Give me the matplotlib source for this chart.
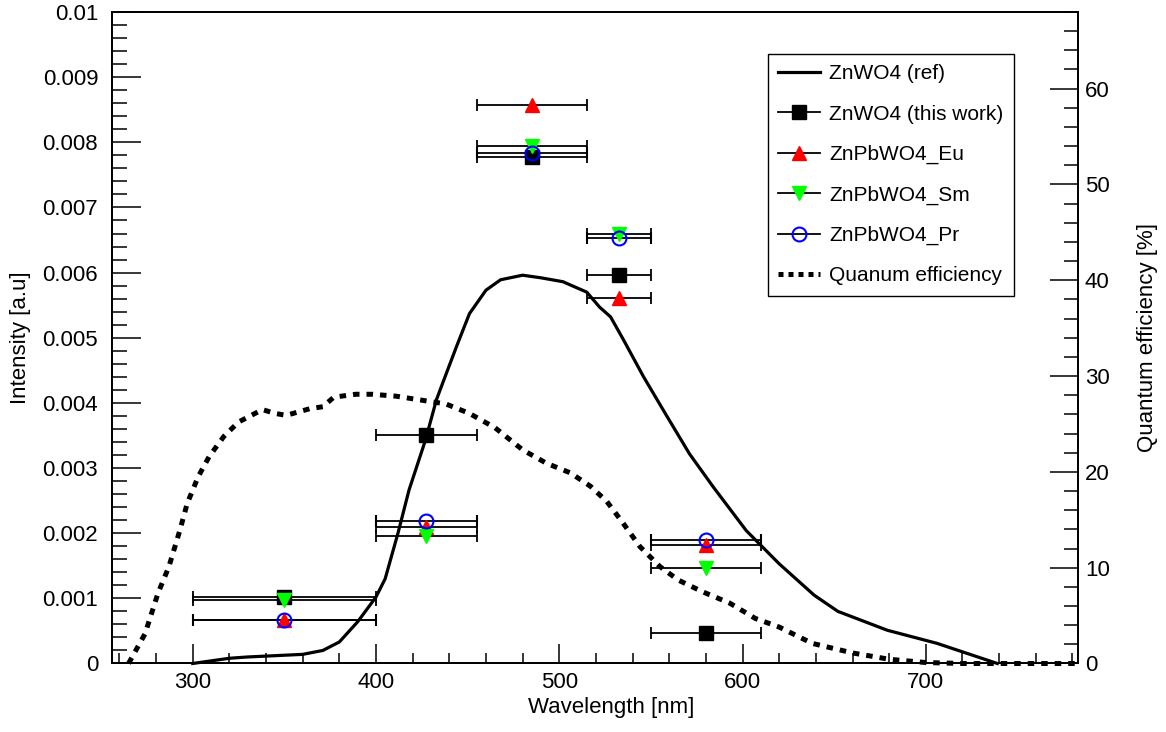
import numpy as np
import matplotlib
matplotlib.use("Agg")
import matplotlib.pyplot as plt
from matplotlib.lines import Line2D
from matplotlib.ticker import MultipleLocator, FuncFormatter

plt.rcParams['font.family'] = ['Liberation Sans', 'DejaVu Sans']

# ZnWO4 reference emission spectrum (nm, a.u.)
ref_wl = [300, 320, 330, 345, 360, 371, 380, 390, 400, 405, 412, 418, 427, 433, 437,
          444, 451, 460, 468, 480, 490, 502, 515, 522, 528, 535, 546, 558, 571, 584,
          602, 620, 639, 652, 679, 706, 739]
ref_int = [0, 0.00008, 0.0001, 0.00012, 0.00014, 0.0002, 0.00033, 0.00064, 0.00102,
           0.0013, 0.002, 0.00266, 0.00343, 0.00405, 0.00435, 0.00487, 0.00537,
           0.00573, 0.00589, 0.00596, 0.00592, 0.00586, 0.0057, 0.00547, 0.00532,
           0.00497, 0.0044, 0.00383, 0.00322, 0.00271, 0.00204, 0.00153, 0.00105,
           0.0008, 0.00051, 0.00031, 0]

# quantum efficiency curve (nm, %)
qe_wl = [265, 274, 281, 287, 293, 297, 303, 309, 317, 325, 338, 345, 351, 364, 371,
         377, 389, 398, 411, 431, 438, 451, 465, 480, 493, 506, 517, 526, 535, 544,
         555, 565, 578, 593, 607, 620, 638, 660, 680, 700, 720, 740, 783]
qe_val = [0, 3.1, 7.3, 10.1, 13.9, 16.7, 19.5, 21.6, 23.7, 25.2, 26.5, 26.1, 25.9,
          26.6, 26.8, 27.8, 28.1, 28.1, 27.9, 27.3, 27.1, 26.1, 24.6, 22.3, 20.9,
          19.9, 18.5, 16.9, 14.6, 12.2, 10.1, 8.7, 7.5, 6.3, 4.7, 3.8, 2.1, 1.1,
          0.44, 0.1, 0, 0, 0]

# measured points
wl = [350, 427.5, 485, 532.5, 580]
wl_err = [50, 27.5, 30, 17.5, 30]
this_work = [0.00102, 0.00351, 0.00778, 0.00597, 0.00047]
eu = [0.00066, 0.00209, 0.00857, 0.00561, 0.00182]
sm = [0.00097, 0.00196, 0.00795, 0.00659, 0.00146]
pr = [0.00067, 0.00218, 0.00784, 0.00653, 0.00189]

fig = plt.figure(figsize=(11.66, 7.32), dpi=100)
ax = fig.add_axes([0.0961, 0.0936, 0.8284, 0.8900])
ax2 = ax.twinx()

ax.plot(ref_wl, ref_int, color='black', lw=2.3, clip_on=False, zorder=3)
ax2.plot(qe_wl, qe_val, color='black', lw=3.6, dashes=(1.3, 1.4),
         dash_capstyle='butt', clip_on=False, zorder=3)

eb = dict(xerr=wl_err, ls='none', ecolor='black', elinewidth=1.3, capsize=4,
          capthick=1.3, markersize=10, zorder=4)
ax.errorbar(wl, this_work, marker='s', color='black', **eb)
ax.errorbar(wl, eu, marker='^', color='red', mec='red', **eb)
ax.errorbar(wl, sm, marker='v', color='#00ff00', mec='#00ff00', **eb)
ax.errorbar(wl, pr, marker='o', mfc='none', mec='blue', mew=1.5, **eb)

# axes ranges and ticks
ax.set_xlim(256, 783)
ax.set_ylim(0, 0.01)
ax2.set_ylim(0, 68)

ax.xaxis.set_major_locator(MultipleLocator(100))
ax.xaxis.set_minor_locator(MultipleLocator(20))
ax.yaxis.set_major_locator(MultipleLocator(0.001))
ax.yaxis.set_minor_locator(MultipleLocator(0.0002))
ax.yaxis.set_major_formatter(FuncFormatter(lambda v, p: f"{round(v, 6):g}"))
ax2.yaxis.set_major_locator(MultipleLocator(10))
ax2.yaxis.set_minor_locator(MultipleLocator(2))

ax.tick_params(axis='x', which='major', direction='in', length=13.7, width=1.1,
               labelsize=16, pad=6)
ax.tick_params(axis='x', which='minor', direction='in', length=7, width=1.1)
ax.tick_params(axis='y', which='major', direction='in', length=21, width=1.1,
               labelsize=16, pad=10)
ax.tick_params(axis='y', which='minor', direction='in', length=10.5, width=1.1)
ax2.tick_params(axis='y', which='major', direction='in', length=20, width=1.1,
                labelsize=16, pad=5)
ax2.tick_params(axis='y', which='minor', direction='in', length=10, width=1.1)

for a in (ax, ax2):
    for s in a.spines.values():
        s.set_linewidth(1.3)

ax.set_xlabel('Wavelength [nm]', fontsize=16)
ax.xaxis.set_label_coords(0.5166, -0.052)
ax.set_ylabel('Intensity [a.u]', fontsize=16, labelpad=8)
ax2.set_ylabel('Quantum efficiency [%]', fontsize=16, rotation=90)
ax2.yaxis.set_label_coords(1.061, 0.50)

handles = [
    Line2D([], [], color='black', lw=2.3),
    Line2D([], [], color='black', lw=1.3, marker='s', markersize=10),
    Line2D([], [], color='black', lw=1.3, marker='^', mfc='red', mec='red', markersize=10),
    Line2D([], [], color='black', lw=1.3, marker='v', mfc='#00ff00', mec='#00ff00', markersize=10),
    Line2D([], [], color='black', lw=1.3, marker='o', mfc='none', mec='blue', mew=1.5, markersize=10),
    Line2D([], [], color='black', lw=3.6, dashes=(1.0, 1.0)),
]
labels = ['ZnWO4 (ref)', 'ZnWO4 (this work)', 'ZnPbWO4_Eu', 'ZnPbWO4_Sm',
          'ZnPbWO4_Pr', 'Quanum efficiency']
leg = ax.legend(handles, labels, loc='upper left', bbox_to_anchor=(0.679, 0.9355),
                fontsize=15, frameon=True, fancybox=False, framealpha=1,
                edgecolor='black', handlelength=2.0, handletextpad=0.45,
                labelspacing=1.02, borderpad=0.5, borderaxespad=0)
leg.get_frame().set_linewidth(1.0)
leg.set_zorder(10)

plt.savefig("out.png", dpi=100)
